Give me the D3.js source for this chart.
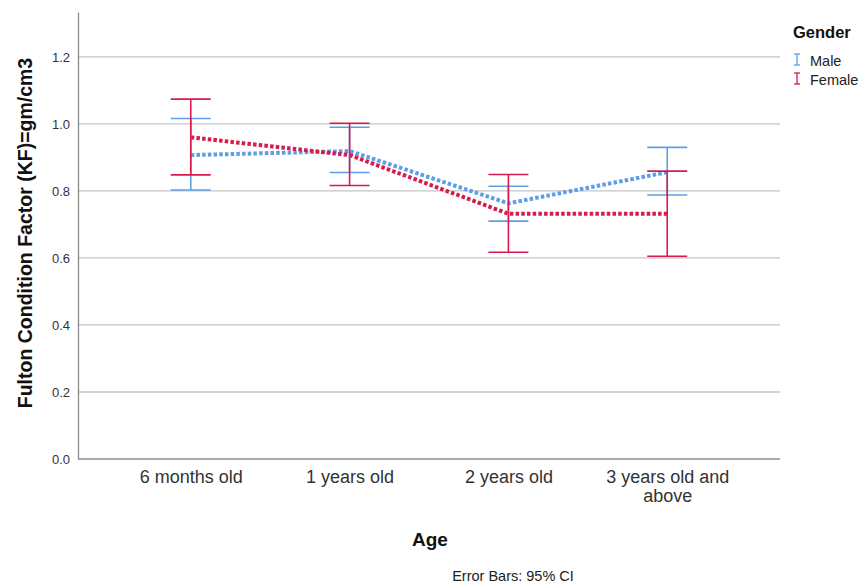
<!DOCTYPE html>
<html>
<head>
<meta charset="utf-8">
<script src="https://cdn.jsdelivr.net/npm/d3@7"></script>
<style>
  body { margin: 0; background: #fff; }
  text { font-family: "Liberation Sans", Arial, sans-serif; }
</style>
</head>
<body>
<div id="chart"></div>
<script>
// Chart data
const categories = ['6 months old', '1 years old', '2 years old', '3 years old and above'];
const maleMean = [0.907, 0.919, 0.763, 0.856];
const maleLow = [0.803, 0.855, 0.710, 0.788];
const maleHigh = [1.016, 0.990, 0.814, 0.930];
const femaleMean = [0.960, 0.907, 0.732, 0.732];
const femaleLow = [0.848, 0.816, 0.617, 0.605];
const femaleHigh = [1.074, 1.002, 0.849, 0.859];
const yTicks = [0.0, 0.2, 0.4, 0.6, 0.8, 1.0, 1.2];

const series = [
    { name: 'Male', color: '#5f9ee6', mean: maleMean, low: maleLow, high: maleHigh },
    { name: 'Female', color: '#d81b4c', mean: femaleMean, low: femaleLow, high: femaleHigh }
];

const width = 867, height = 588;
const plotLeft = 78, plotRight = 780, plotTop = 12, plotBottom = 459;

const svg = d3.select('#chart')
    .append('svg')
    .attr('width', width)
    .attr('height', height);

const x = d3.scalePoint()
    .domain(categories)
    .range([plotLeft, plotRight])
    .padding(0.71);

const y = d3.scaleLinear()
    .domain([0, 1.334])
    .range([plotBottom, plotTop]);

// gridlines
svg.append('g')
    .selectAll('line')
    .data(yTicks.filter(d => d > 0))
    .enter()
    .append('line')
    .attr('x1', plotLeft)
    .attr('x2', plotRight)
    .attr('y1', d => y(d))
    .attr('y2', d => y(d))
    .attr('stroke', '#c4c4c4')
    .attr('stroke-width', 1.3);

// y axis
const yAxis = svg.append('g')
    .attr('transform', `translate(${plotLeft},0)`)
    .call(d3.axisLeft(y).tickValues(yTicks).tickFormat(d3.format('.1f')).tickSize(0).tickPadding(8));
yAxis.select('.domain').attr('stroke', '#8c8c8c').attr('stroke-width', 1.3);
yAxis.selectAll('text').attr('font-size', 13).attr('fill', '#333');

// x axis
const xAxis = svg.append('g')
    .attr('transform', `translate(0,${plotBottom})`)
    .call(d3.axisBottom(x).tickSize(0).tickPadding(11));
xAxis.select('.domain').attr('d', `M${plotLeft},0H${plotRight}`).attr('stroke', '#8c8c8c').attr('stroke-width', 1.5);
xAxis.selectAll('text')
    .attr('font-size', 18)
    .attr('fill', '#333')
    .each(function (d) {
        const t = d3.select(this);
        if (d === '3 years old and above') {
            t.text(null);
            t.append('tspan').attr('x', 0).attr('dy', '0.71em').text('3 years old and');
            t.append('tspan').attr('x', 0).attr('dy', '1.08em').text('above');
            t.attr('dy', null);
        }
    });

// lines
const line = d3.line()
    .x((d, i) => x(categories[i]))
    .y(d => y(d));

series.forEach(s => {
    svg.append('path')
        .datum(s.mean)
        .attr('d', line)
        .attr('fill', 'none')
        .attr('stroke', s.color)
        .attr('stroke-width', 4)
        .attr('stroke-dasharray', '3.5,2.2');
});

// error bars
const capHalf = 20;
series.forEach(s => {
    const g = svg.append('g');
    categories.forEach((c, i) => {
        const cx = x(c);
        g.append('line')
            .attr('x1', cx).attr('x2', cx)
            .attr('y1', y(s.low[i])).attr('y2', y(s.high[i]))
            .attr('stroke', s.color).attr('stroke-width', 1.6);
        [s.low[i], s.high[i]].forEach(v => {
            g.append('line')
                .attr('x1', cx - capHalf).attr('x2', cx + capHalf)
                .attr('y1', y(v)).attr('y2', y(v))
                .attr('stroke', s.color).attr('stroke-width', 1.6);
        });
    });
});

// axis titles
svg.append('text')
    .attr('transform', 'translate(32,233) rotate(-90)')
    .attr('text-anchor', 'middle')
    .attr('font-size', 19.5)
    .attr('font-weight', 'bold')
    .attr('fill', '#111')
    .text('Fulton Condition Factor (KF)=gm/cm3');

svg.append('text')
    .attr('x', 430)
    .attr('y', 546)
    .attr('text-anchor', 'middle')
    .attr('font-size', 19)
    .attr('font-weight', 'bold')
    .attr('fill', '#111')
    .text('Age');

svg.append('text')
    .attr('x', 513)
    .attr('y', 581)
    .attr('text-anchor', 'middle')
    .attr('font-size', 14.5)
    .attr('fill', '#222')
    .text('Error Bars: 95% CI');

// legend
const legend = svg.append('g');
legend.append('text')
    .attr('x', 793)
    .attr('y', 38)
    .attr('font-size', 16.5)
    .attr('font-weight', 'bold')
    .attr('fill', '#111')
    .text('Gender');

series.forEach((s, i) => {
    const ly = 60 + i * 19;
    const mk = legend.append('g').attr('stroke', s.color).attr('stroke-width', 1.3);
    mk.append('line').attr('x1', 797).attr('x2', 797).attr('y1', ly - 6).attr('y2', ly + 5);
    mk.append('line').attr('x1', 794).attr('x2', 800).attr('y1', ly - 6).attr('y2', ly - 6);
    mk.append('line').attr('x1', 794).attr('x2', 800).attr('y1', ly + 5).attr('y2', ly + 5);
    legend.append('text')
        .attr('x', 810)
        .attr('y', ly + 6)
        .attr('font-size', 14.5)
        .attr('fill', '#222')
        .text(s.name);
});
</script>
</body>
</html>
